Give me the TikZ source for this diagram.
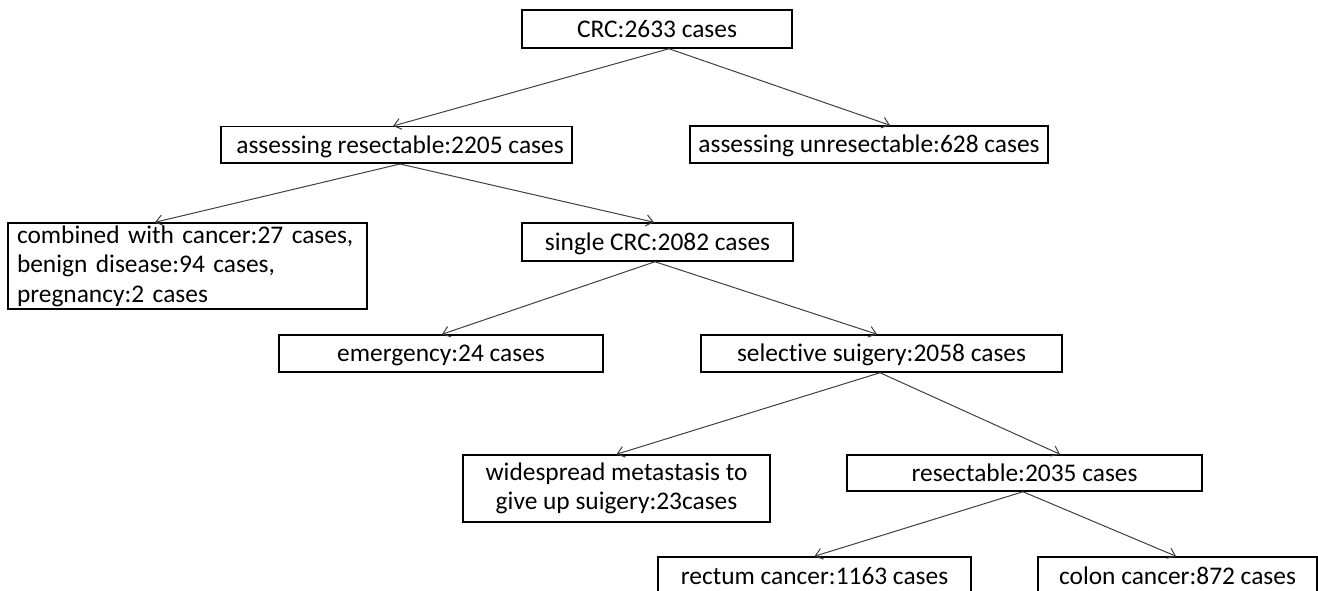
\documentclass[tikz,border=0pt]{standalone}
\usepackage{fontspec}
\setmainfont{Carlito}[Ligatures=NoCommon]
\usetikzlibrary{arrows.meta}
\tikzset{
  box/.style={draw=black, line width=1.5pt, inner sep=0pt, anchor=center,
    font=\fontsize{25.4}{29.5}\selectfont, text height=16.5pt, text depth=0pt},
  mbox/.style={draw=black, line width=1.5pt, inner sep=0pt, anchor=center,
    font=\fontsize{25.4}{29.5}\selectfont},
  arr/.style={draw=black!75, line width=1pt, -{Straight Barb[length=7pt,width=11pt,line width=1pt]}}
}
\begin{document}
\begin{tikzpicture}[x=1pt,y=-1pt]
\fill[white] (0,0) rectangle (1318,591);
\useasboundingbox (0,0) rectangle (1318,591);

\node[box, minimum width=270pt, minimum height=38pt] (crc) at (657,29) {CRC:2633 cases};
\node[box, minimum width=351pt, minimum height=36.5pt] (res) at (396.5,145) {\hspace{7pt}assessing resectable:2205 cases};
\node[box, minimum width=358pt, minimum height=37pt] (unres) at (869,144.5) {assessing unresectable:628 cases};
\node[mbox, minimum width=359pt, minimum height=86pt, align=left, text width=341pt] (comb) at (187.5,266)
  {combined with cancer:27 cases,\\benign disease:94 cases,\\pregnancy:2 cases};
\node[box, minimum width=271pt, minimum height=38pt] (single) at (657.5,242) {single CRC:2082 cases};
\node[box, minimum width=324pt, minimum height=37pt] (emer) at (441,353.5) {emergency:24 cases};
\node[box, minimum width=361pt, minimum height=37pt] (sel) at (881.5,353.5) {selective suigery:2058 cases};
\node[mbox, minimum width=307pt, minimum height=67pt, align=center] (wide) at (616.5,488.5)
  {widespread metastasis to\\give up suigery:23cases};
\node[box, minimum width=355pt, minimum height=36pt] (resect) at (1024.5,473) {resectable:2035 cases};
\node[box, minimum width=313pt, minimum height=38pt] (rect) at (814.5,576) {rectum cancer:1163 cases};
\node[box, minimum width=279pt, minimum height=38pt] (colon) at (1177.5,576) {colon cancer:872 cases};

\draw[arr] ([xshift=12pt]crc.south) -- ([xshift=-3.5pt]res.north);
\draw[arr] ([xshift=12pt]crc.south) -- ([xshift=21pt]unres.north);
\draw[arr] ([xshift=3.5pt]res.south) -- ([xshift=-32.5pt]comb.north);
\draw[arr] ([xshift=3.5pt]res.south) -- ([xshift=-3.5pt]single.north);
\draw[arr] ([xshift=-2.5pt]single.south) -- ([xshift=1pt]emer.north);
\draw[arr] ([xshift=-2.5pt]single.south) -- ([xshift=-4.5pt]sel.north);
\draw[arr] ([xshift=-1.5pt]sel.south) -- (wide.north);
\draw[arr] ([xshift=-1.5pt]sel.south) -- ([xshift=35.5pt]resect.north);
\draw[arr] ([xshift=-1.5pt]resect.south) -- (rect.north);
\draw[arr] ([xshift=-1.5pt]resect.south) -- ([xshift=-1.5pt]colon.north);
\end{tikzpicture}
\end{document}
